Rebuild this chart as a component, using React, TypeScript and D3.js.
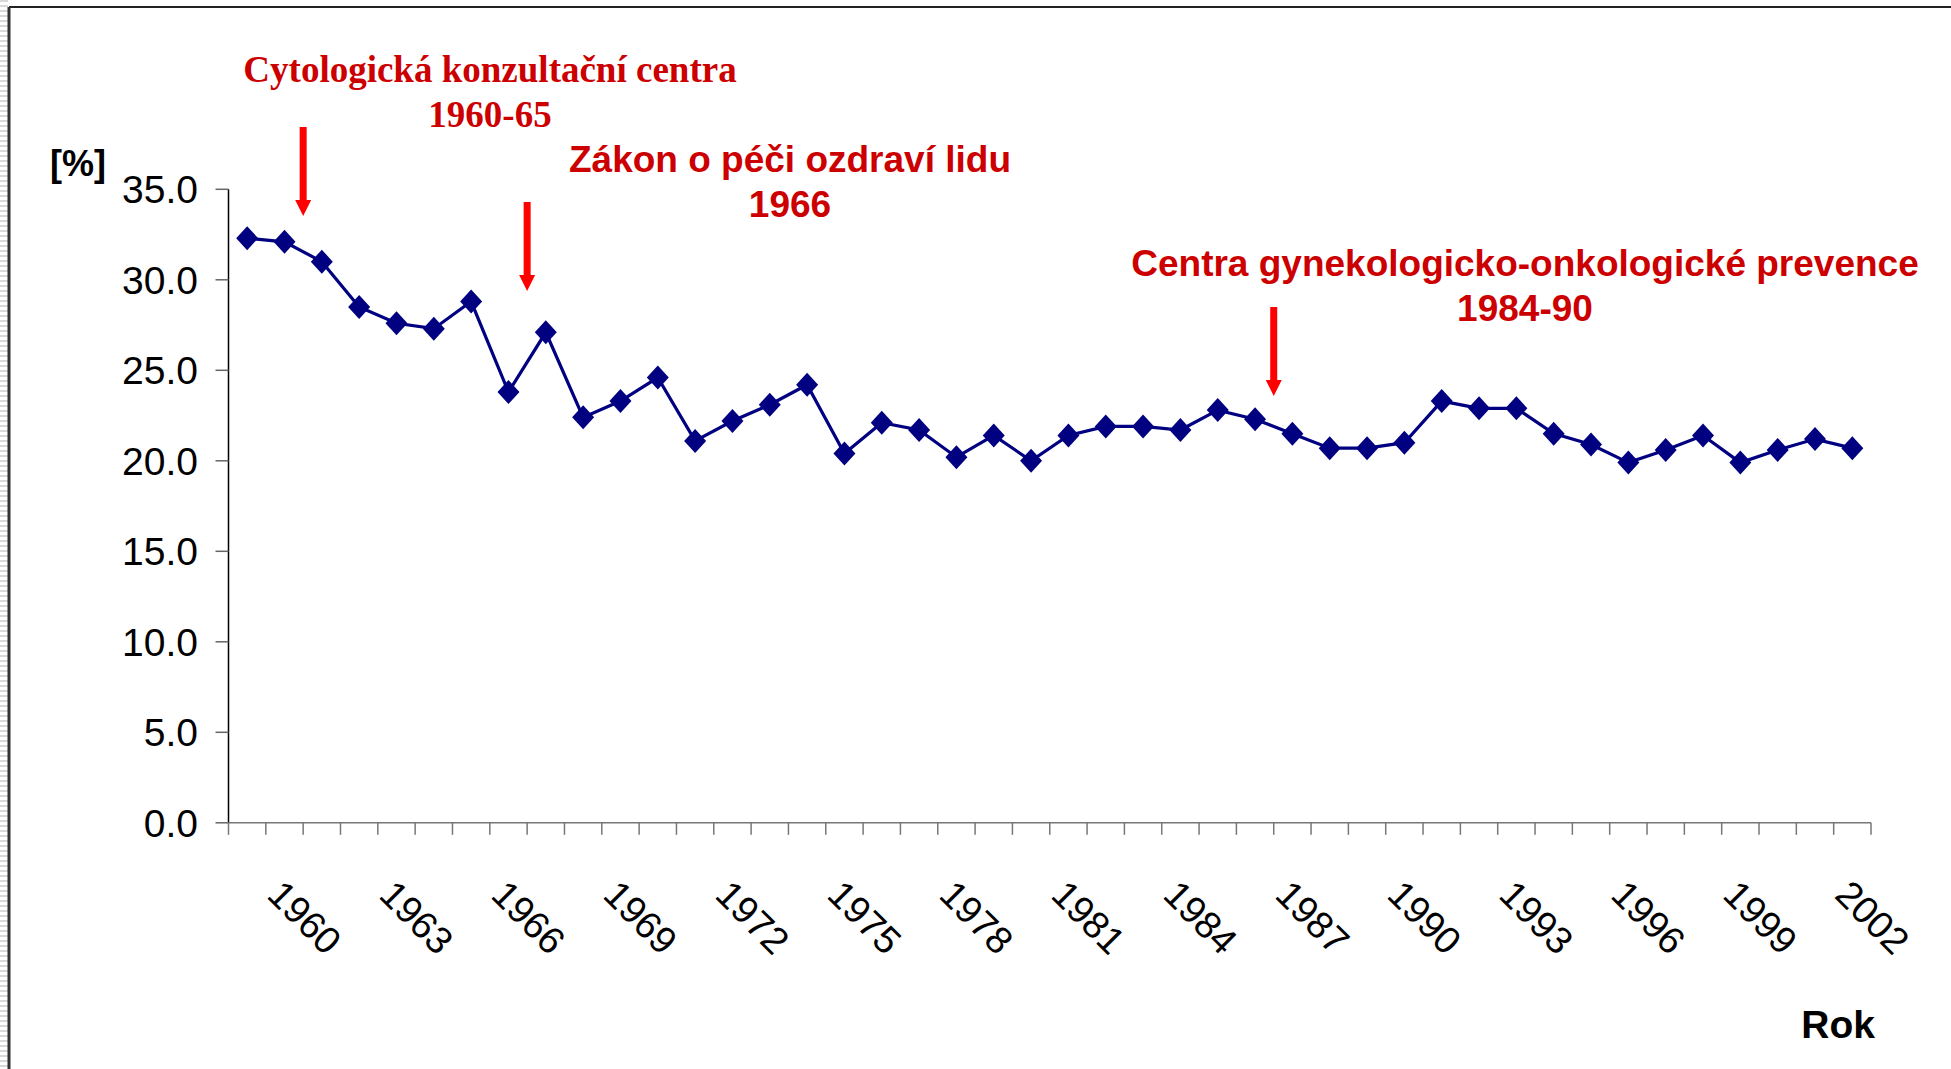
import React from 'react';
import * as d3 from 'd3';

const years = d3.range(1959, 2003);
const values = [
  32.3, 32.1, 31.0, 28.5, 27.6, 27.3, 28.8, 23.8, 27.1, 22.4,
  23.3, 24.6, 21.1, 22.2, 23.1, 24.2, 20.4, 22.1, 21.7, 20.2,
  21.4, 20.0, 21.4, 21.9, 21.9, 21.7, 22.8, 22.3, 21.5, 20.7,
  20.7, 21.0, 23.3, 22.9, 22.9, 21.5, 20.9, 19.9, 20.6, 21.4,
  19.9, 20.6, 21.2, 20.7,
];
const yTicks = [0, 5, 10, 15, 20, 25, 30, 35];
const xLabelYears = d3.range(1960, 2003, 3);

const annotations = [
  { lines: ['Cytologická konzultační centra', '1960-65'], serif: true, cx: 490, y0: 82, arrowYear: 1960.5, arrowTop: 127, arrowTip: 216 },
  { lines: ['Zákon o péči ozdraví lidu', '1966'], serif: false, cx: 790, y0: 172, arrowYear: 1966.5, arrowTop: 202, arrowTip: 291 },
  { lines: ['Centra gynekologicko-onkologické prevence', '1984-90'], serif: false, cx: 1525, y0: 276, arrowYear: 1986.5, arrowTop: 307, arrowTip: 396 },
];

const W = 1951;
const H = 1069;
const left = 228.5;
const right = 1871;
const top = 189.3;
const bottom = 822.8;

const App = () => {
  const x = d3.scaleBand<number>().domain(years).range([left, right]).padding(0);
  const y = d3.scaleLinear().domain([0, 35]).range([bottom, top]);
  const cx = (yr: number) => (x(yr) ?? 0) + x.bandwidth() / 2;
  const xAt = d3.scaleLinear().domain([1959, 2002]).range([cx(1959), cx(2002)]);

  const line = d3
    .line<number>()
    .x((d, i) => cx(years[i]))
    .y((d) => y(d));

  // Excel-style diamond, a bit taller than wide
  const diamond = 'M0,-12L11,0L0,12L-11,0Z';
  const boundaries = d3.range(0, years.length + 1).map((i) => left + i * x.bandwidth());

  return (
    <svg width={W} height={H} style={{ position: 'absolute', left: 0, top: 0, background: '#fff' }}>
      <defs>
        <pattern id="stripes" width="8" height="5" patternUnits="userSpaceOnUse">
          <rect width="8" height="2" fill="#d9d9d9" />
        </pattern>
      </defs>
      <rect x={0} y={0} width={W} height={H} fill="#fff" />
      <rect x={0} y={0} width={8} height={H} fill="url(#stripes)" />
      <line x1={9} y1={7} x2={W} y2={7} stroke="#222" strokeWidth={2} />
      <line x1={9} y1={7} x2={9} y2={H} stroke="#333" strokeWidth={3} />

      {/* y axis */}
      <line x1={left} y1={top} x2={left} y2={bottom} stroke="#000" strokeWidth={1.5} />
      {yTicks.map((t) => (
        <g key={t}>
          <line x1={left - 13} x2={left} y1={y(t)} y2={y(t)} stroke="#666" strokeWidth={1.5} />
          <text x={198} y={y(t)} dy="0.36em" textAnchor="end" fontFamily="Liberation Sans, Arial, sans-serif" fontSize={39}>
            {t.toFixed(1)}
          </text>
        </g>
      ))}
      <text x={50} y={176} fontFamily="Liberation Sans, Arial, sans-serif" fontWeight="bold" fontSize={36}>[%]</text>

      {/* x axis */}
      <line x1={left} y1={bottom} x2={right} y2={bottom} stroke="#777" strokeWidth={1.5} />
      {boundaries.map((bx, i) => (
        <line key={i} x1={bx} x2={bx} y1={bottom} y2={bottom + 12} stroke="#777" strokeWidth={1.5} />
      ))}
      {xLabelYears.map((yr) => (
        <text
          key={yr}
          transform={`translate(${cx(yr) - 19},${bottom + 74}) rotate(45)`}
          fontFamily="Liberation Sans, Arial, sans-serif"
          fontSize={38}
        >
          {yr}
        </text>
      ))}
      <text x={1875} y={1038} textAnchor="end" fontFamily="Liberation Sans, Arial, sans-serif" fontWeight="bold" fontSize={39}>Rok</text>

      {/* series */}
      <path d={line(values) ?? ''} fill="none" stroke="#000080" strokeWidth={3.2} />
      {values.map((v, i) => (
        <path key={i} d={diamond} transform={`translate(${cx(years[i])},${y(v)})`} fill="#000080" />
      ))}

      {/* annotations */}
      {annotations.map((a, k) => {
        const ax = xAt(a.arrowYear);
        return (
          <g key={k}>
            {a.lines.map((t, j) => (
              <text
                key={j}
                x={a.cx}
                y={a.y0 + j * 45}
                textAnchor="middle"
                fill="#cc0000"
                fontWeight="bold"
                fontFamily={a.serif ? 'Liberation Serif, Times New Roman, serif' : 'Liberation Sans, Arial, sans-serif'}
                fontSize={37}
              >
                {t}
              </text>
            ))}
            <rect x={ax - 3.5} y={a.arrowTop} width={7} height={a.arrowTip - a.arrowTop - 15} fill="#ff0000" />
            <path d={`M${ax - 8},${a.arrowTip - 16}L${ax + 8},${a.arrowTip - 16}L${ax},${a.arrowTip}Z`} fill="#ff0000" />
          </g>
        );
      })}
    </svg>
  );
};

export default App;
